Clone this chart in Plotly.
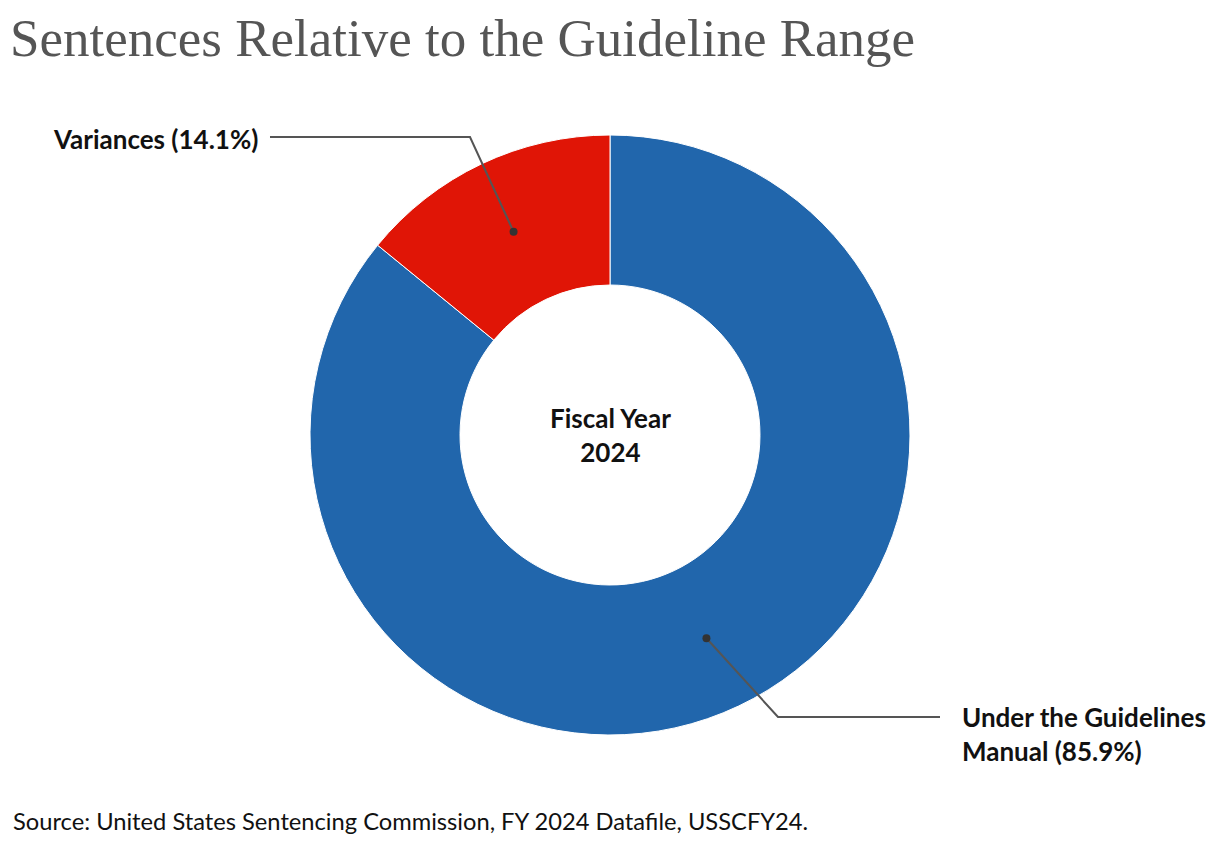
import math
import plotly.graph_objects as go

labels = ["Under the Guidelines Manual", "Variances"]
values = [85.9, 14.1]
colors = ["#2166AC", "#E01506"]
label_text = ["Under the Guidelines<br>Manual (85.9%)", "Variances (14.1%)"]
center_text = "Fiscal Year<br>2024"
title_text = "Sentences Relative to the Guideline Range"
source_text = "Source: United States Sentencing Commission, FY 2024 Datafile, USSCFY24."

W, H = 1220, 846
OFF = 8  # page body margin
cx, cy = 610, 435
R_out, R_in = 300, 150


def px(x, y):
    """page pixel -> paper coords"""
    return (x - OFF) / W, 1 - (y - OFF) / H


fig = go.Figure()
dx0, dy1 = px(cx - R_out, cy - R_out)
dx1, dy0 = px(cx + R_out, cy + R_out)
fig.add_trace(go.Pie(
    labels=labels, values=values, sort=False, direction="clockwise", rotation=0,
    hole=R_in / R_out, marker=dict(colors=colors, line=dict(color="white", width=1)),
    textinfo="none", hoverinfo="label+percent", showlegend=False,
    domain=dict(x=[dx0, dx1], y=[dy0, dy1]),
))

total = sum(values)
cum = 0
mids = []
for v in values:
    a = (cum + v / 2) / total * 2 * math.pi
    cum += v
    mids.append(a)

r_mid = (R_in + R_out) / 2
shapes = []
annos = []
elbows = [((778, 717), (940, 717), (960, 734), "left"), ((470, 137), (270, 137), (260, 139), "right")]
for i, a in enumerate(mids):
    dx = cx + r_mid * math.sin(a)
    dy = cy - r_mid * math.cos(a)
    (ex, ey), (hx, hy), (lx, ly), anchor = elbows[i]
    pts = [(dx, dy), (ex, ey), (hx, hy)]
    path = "M " + " L ".join("{:.5f},{:.5f}".format(*px(x, y)) for x, y in pts)
    shapes.append(dict(type="path", xref="paper", yref="paper", path=path,
                       line=dict(color="#555555", width=2)))
    rr = 4
    x0, y0 = px(dx - rr, dy + rr)
    x1, y1 = px(dx + rr, dy - rr)
    shapes.append(dict(type="circle", xref="paper", yref="paper", x0=x0, y0=y0, x1=x1, y1=y1,
                       fillcolor="#333333", line=dict(width=0)))
    lxp, lyp = px(lx, ly)
    annos.append(dict(text=f"<b>{label_text[i]}</b>", x=lxp, y=lyp, xref="paper", yref="paper",
                      xanchor=anchor, yanchor="middle", align="left", showarrow=False,
                      font=dict(family="Lato", size=26, color="#111111")))

ccx, ccy = px(cx, cy)
annos.append(dict(text=f"<b>{center_text}</b>", x=ccx, y=ccy, xref="paper", yref="paper",
                  showarrow=False, xanchor="center", yanchor="middle",
                  font=dict(family="Lato", size=26, color="#111111")))
sx, sy = px(11, 821)
annos.append(dict(text=source_text, x=sx, y=sy, xref="paper", yref="paper", showarrow=False,
                  xanchor="left", yanchor="middle", font=dict(family="Lato", size=23.7, color="#111111")))
tx, ty = px(8, 38)
annos.append(dict(text=title_text, x=tx, y=ty, xref="paper", yref="paper", showarrow=False,
                  xanchor="left", yanchor="middle",
                  font=dict(family="Liberation Serif", size=53, color="#555555")))

fig.update_layout(width=W, height=H, margin=dict(l=0, r=0, t=0, b=0),
                  paper_bgcolor="white", plot_bgcolor="white",
                  shapes=shapes, annotations=annos)
fig.write_html("out.html")
